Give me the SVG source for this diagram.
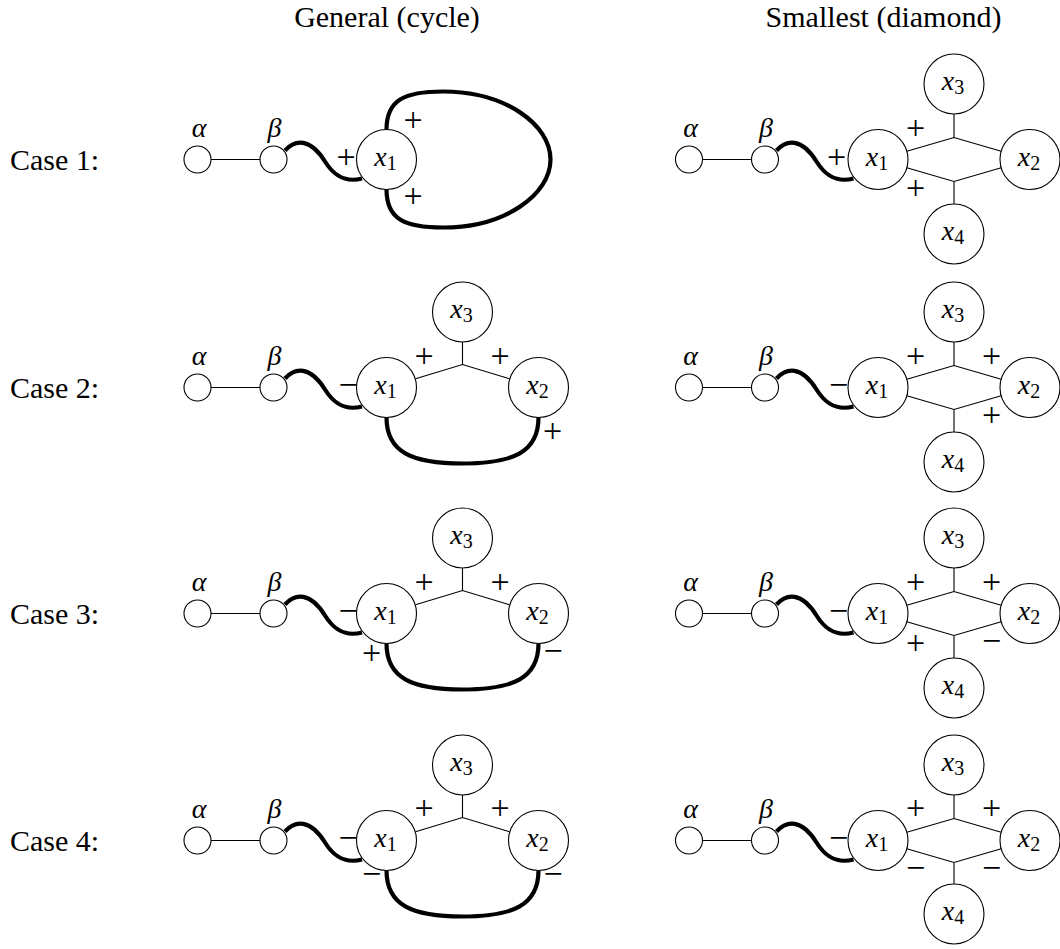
<svg xmlns="http://www.w3.org/2000/svg" width="1060" height="949" viewBox="0 0 1060 949" font-family="'Liberation Serif', 'Times New Roman', 'DejaVu Serif', serif">
<style>
.node circle{fill:#fff;stroke:#000;stroke-width:1.1}
.thin{fill:none;stroke:#000;stroke-width:1.1}
.thick{fill:none;stroke:#000;stroke-width:4.2}
text{font-family:'Liberation Serif','Times New Roman','DejaVu Serif',serif}
.math{font-style:italic;font-size:28px;text-anchor:middle;fill:#000}
.sub{font-style:normal;font-size:20px}
.sign{font-size:34px;text-anchor:middle;fill:#000}
.lbl{font-size:30px;fill:#000}
</style>
<rect width="1060" height="949" fill="#fff"/>
<g id="headers">
<text class="lbl" x="387" y="27" text-anchor="middle" font-family="Liberation Serif">General (cycle)</text>
<text class="lbl" x="883.5" y="27" text-anchor="middle" font-family="Liberation Serif">Smallest (diamond)</text>
<text class="lbl" x="10" y="170" font-family="Liberation Serif">Case 1:</text>
<text class="lbl" x="10" y="398" font-family="Liberation Serif">Case 2:</text>
<text class="lbl" x="10" y="624" font-family="Liberation Serif">Case 3:</text>
<text class="lbl" x="10" y="851" font-family="Liberation Serif">Case 4:</text>
</g>
<g id="connectors">
<path class="thin" d="M211,159.5H260"/>
<path class="thick" d="M285,150.5C295,139.5 310,137.5 325,161.5C332.5,173.5 343,183.5 362,178.5"/>
<path class="thick" d="M386.5,129.5C386.5,99.5 405,91.5 443,91.5C505,91.5 550.5,124.5 550.5,159.5C550.5,194.5 505,227.5 443,227.5C405,227.5 386.5,219.5 386.5,189.5"/>
<path class="thin" d="M702.5,159.5H751.5"/>
<path class="thick" d="M776.5,150.5C786.5,139.5 801.5,137.5 816.5,161.5C824,173.5 834.5,183.5 853.5,178.5"/>
<path class="thin" d="M906.8,151.2L954,137.5L1001.2,151.2M906.8,167.8L954,181.5L1001.2,167.8M954,137.5V114M954,181.5V204"/>
<path class="thin" d="M211,387.5H260"/>
<path class="thick" d="M285,378.5C295,367.5 310,365.5 325,389.5C332.5,401.5 343,411.5 362,406.5"/>
<path class="thin" d="M415.5,378.8L462.5,364.5L509.5,378.8M462.5,364.5V342"/>
<path class="thick" d="M386.5,417.5C386.5,452.5 412.5,463.5 462.5,463.5C512.5,463.5 538.5,452.5 538.5,417.5"/>
<path class="thin" d="M702.5,387.5H751.5"/>
<path class="thick" d="M776.5,378.5C786.5,367.5 801.5,365.5 816.5,389.5C824,401.5 834.5,411.5 853.5,406.5"/>
<path class="thin" d="M906.8,379.2L954,365.5L1001.2,379.2M906.8,395.8L954,409.5L1001.2,395.8M954,365.5V342M954,409.5V432"/>
<path class="thin" d="M211,613.5H260"/>
<path class="thick" d="M285,604.5C295,593.5 310,591.5 325,615.5C332.5,627.5 343,637.5 362,632.5"/>
<path class="thin" d="M415.5,604.8L462.5,590.5L509.5,604.8M462.5,590.5V568"/>
<path class="thick" d="M386.5,643.5C386.5,678.5 412.5,689.5 462.5,689.5C512.5,689.5 538.5,678.5 538.5,643.5"/>
<path class="thin" d="M702.5,613.5H751.5"/>
<path class="thick" d="M776.5,604.5C786.5,593.5 801.5,591.5 816.5,615.5C824,627.5 834.5,637.5 853.5,632.5"/>
<path class="thin" d="M906.8,605.2L954,591.5L1001.2,605.2M906.8,621.8L954,635.5L1001.2,621.8M954,591.5V568M954,635.5V658"/>
<path class="thin" d="M211,840.5H260"/>
<path class="thick" d="M285,831.5C295,820.5 310,818.5 325,842.5C332.5,854.5 343,864.5 362,859.5"/>
<path class="thin" d="M415.5,831.8L462.5,817.5L509.5,831.8M462.5,817.5V795"/>
<path class="thick" d="M386.5,870.5C386.5,905.5 412.5,916.5 462.5,916.5C512.5,916.5 538.5,905.5 538.5,870.5"/>
<path class="thin" d="M702.5,840.5H751.5"/>
<path class="thick" d="M776.5,831.5C786.5,820.5 801.5,818.5 816.5,842.5C824,854.5 834.5,864.5 853.5,859.5"/>
<path class="thin" d="M906.8,832.2L954,818.5L1001.2,832.2M906.8,848.8L954,862.5L1001.2,848.8M954,818.5V795M954,862.5V884"/>
</g>
<g id="edge-labels" font-family="Liberation Serif">
<text class="sign" x="346" y="168.1">+</text>
<text class="sign" x="413" y="130.6">+</text>
<text class="sign" x="413" y="206.6">+</text>
<text class="sign" x="836.5" y="168.1">+</text>
<text class="sign" x="915.5" y="138.6">+</text>
<text class="sign" x="915.5" y="198.6">+</text>
<text class="sign" x="348" y="396.1">−</text>
<text class="sign" x="424" y="367.1">+</text>
<text class="sign" x="500" y="367.1">+</text>
<text class="sign" x="552.5" y="442.1">+</text>
<text class="sign" x="838.5" y="396.1">−</text>
<text class="sign" x="915.5" y="366.6">+</text>
<text class="sign" x="991.5" y="366.6">+</text>
<text class="sign" x="991.5" y="425.6">+</text>
<text class="sign" x="348" y="622.1">−</text>
<text class="sign" x="424" y="592.6">+</text>
<text class="sign" x="500" y="592.6">+</text>
<text class="sign" x="371.5" y="663.6">+</text>
<text class="sign" x="553" y="662.1">−</text>
<text class="sign" x="838.5" y="622.1">−</text>
<text class="sign" x="915.5" y="592.6">+</text>
<text class="sign" x="991.5" y="592.6">+</text>
<text class="sign" x="915.5" y="653.6">+</text>
<text class="sign" x="991.5" y="652.1">−</text>
<text class="sign" x="348" y="849.1">−</text>
<text class="sign" x="424" y="819.1">+</text>
<text class="sign" x="500" y="819.1">+</text>
<text class="sign" x="371.5" y="885.1">−</text>
<text class="sign" x="553" y="885.1">−</text>
<text class="sign" x="838.5" y="849.1">−</text>
<text class="sign" x="915.5" y="818.6">+</text>
<text class="sign" x="991.5" y="818.6">+</text>
<text class="sign" x="915.5" y="878.6">−</text>
<text class="sign" x="991.5" y="878.6">−</text>
</g>
<g id="r1g-alpha" class="node"><circle cx="197.5" cy="159.5" r="13.5"/><text class="math" x="199" y="136.5">α</text></g>
<g id="r1g-beta" class="node"><circle cx="273.5" cy="159.5" r="13.5"/><text class="math" x="274.5" y="136.5">β</text></g>
<g id="r1g-x1" class="node"><circle cx="386.5" cy="159.5" r="30"/><text class="math" x="385.5" y="165.5">x<tspan class="sub" dy="4">1</tspan></text></g>
<g id="r1s-alpha" class="node"><circle cx="689" cy="159.5" r="13.5"/><text class="math" x="690.5" y="136.5">α</text></g>
<g id="r1s-beta" class="node"><circle cx="765" cy="159.5" r="13.5"/><text class="math" x="766" y="136.5">β</text></g>
<g id="r1s-x1" class="node"><circle cx="878" cy="159.5" r="30"/><text class="math" x="877" y="165.5">x<tspan class="sub" dy="4">1</tspan></text></g>
<g id="r1s-x2" class="node"><circle cx="1030" cy="159.5" r="30"/><text class="math" x="1029" y="165.5">x<tspan class="sub" dy="4">2</tspan></text></g>
<g id="r1s-x3" class="node"><circle cx="954" cy="84" r="30"/><text class="math" x="953" y="90">x<tspan class="sub" dy="4">3</tspan></text></g>
<g id="r1s-x4" class="node"><circle cx="954" cy="234" r="30"/><text class="math" x="953" y="240">x<tspan class="sub" dy="4">4</tspan></text></g>
<g id="r2g-alpha" class="node"><circle cx="197.5" cy="387.5" r="13.5"/><text class="math" x="199" y="364.5">α</text></g>
<g id="r2g-beta" class="node"><circle cx="273.5" cy="387.5" r="13.5"/><text class="math" x="274.5" y="364.5">β</text></g>
<g id="r2g-x1" class="node"><circle cx="386.5" cy="387.5" r="30"/><text class="math" x="385.5" y="393.5">x<tspan class="sub" dy="4">1</tspan></text></g>
<g id="r2g-x2" class="node"><circle cx="538.5" cy="387.5" r="30"/><text class="math" x="537.5" y="393.5">x<tspan class="sub" dy="4">2</tspan></text></g>
<g id="r2g-x3" class="node"><circle cx="462.5" cy="312" r="30"/><text class="math" x="461.5" y="318">x<tspan class="sub" dy="4">3</tspan></text></g>
<g id="r2s-alpha" class="node"><circle cx="689" cy="387.5" r="13.5"/><text class="math" x="690.5" y="364.5">α</text></g>
<g id="r2s-beta" class="node"><circle cx="765" cy="387.5" r="13.5"/><text class="math" x="766" y="364.5">β</text></g>
<g id="r2s-x1" class="node"><circle cx="878" cy="387.5" r="30"/><text class="math" x="877" y="393.5">x<tspan class="sub" dy="4">1</tspan></text></g>
<g id="r2s-x2" class="node"><circle cx="1030" cy="387.5" r="30"/><text class="math" x="1029" y="393.5">x<tspan class="sub" dy="4">2</tspan></text></g>
<g id="r2s-x3" class="node"><circle cx="954" cy="312" r="30"/><text class="math" x="953" y="318">x<tspan class="sub" dy="4">3</tspan></text></g>
<g id="r2s-x4" class="node"><circle cx="954" cy="462" r="30"/><text class="math" x="953" y="468">x<tspan class="sub" dy="4">4</tspan></text></g>
<g id="r3g-alpha" class="node"><circle cx="197.5" cy="613.5" r="13.5"/><text class="math" x="199" y="590.5">α</text></g>
<g id="r3g-beta" class="node"><circle cx="273.5" cy="613.5" r="13.5"/><text class="math" x="274.5" y="590.5">β</text></g>
<g id="r3g-x1" class="node"><circle cx="386.5" cy="613.5" r="30"/><text class="math" x="385.5" y="619.5">x<tspan class="sub" dy="4">1</tspan></text></g>
<g id="r3g-x2" class="node"><circle cx="538.5" cy="613.5" r="30"/><text class="math" x="537.5" y="619.5">x<tspan class="sub" dy="4">2</tspan></text></g>
<g id="r3g-x3" class="node"><circle cx="462.5" cy="538" r="30"/><text class="math" x="461.5" y="544">x<tspan class="sub" dy="4">3</tspan></text></g>
<g id="r3s-alpha" class="node"><circle cx="689" cy="613.5" r="13.5"/><text class="math" x="690.5" y="590.5">α</text></g>
<g id="r3s-beta" class="node"><circle cx="765" cy="613.5" r="13.5"/><text class="math" x="766" y="590.5">β</text></g>
<g id="r3s-x1" class="node"><circle cx="878" cy="613.5" r="30"/><text class="math" x="877" y="619.5">x<tspan class="sub" dy="4">1</tspan></text></g>
<g id="r3s-x2" class="node"><circle cx="1030" cy="613.5" r="30"/><text class="math" x="1029" y="619.5">x<tspan class="sub" dy="4">2</tspan></text></g>
<g id="r3s-x3" class="node"><circle cx="954" cy="538" r="30"/><text class="math" x="953" y="544">x<tspan class="sub" dy="4">3</tspan></text></g>
<g id="r3s-x4" class="node"><circle cx="954" cy="688" r="30"/><text class="math" x="953" y="694">x<tspan class="sub" dy="4">4</tspan></text></g>
<g id="r4g-alpha" class="node"><circle cx="197.5" cy="840.5" r="13.5"/><text class="math" x="199" y="817.5">α</text></g>
<g id="r4g-beta" class="node"><circle cx="273.5" cy="840.5" r="13.5"/><text class="math" x="274.5" y="817.5">β</text></g>
<g id="r4g-x1" class="node"><circle cx="386.5" cy="840.5" r="30"/><text class="math" x="385.5" y="846.5">x<tspan class="sub" dy="4">1</tspan></text></g>
<g id="r4g-x2" class="node"><circle cx="538.5" cy="840.5" r="30"/><text class="math" x="537.5" y="846.5">x<tspan class="sub" dy="4">2</tspan></text></g>
<g id="r4g-x3" class="node"><circle cx="462.5" cy="765" r="30"/><text class="math" x="461.5" y="771">x<tspan class="sub" dy="4">3</tspan></text></g>
<g id="r4s-alpha" class="node"><circle cx="689" cy="840.5" r="13.5"/><text class="math" x="690.5" y="817.5">α</text></g>
<g id="r4s-beta" class="node"><circle cx="765" cy="840.5" r="13.5"/><text class="math" x="766" y="817.5">β</text></g>
<g id="r4s-x1" class="node"><circle cx="878" cy="840.5" r="30"/><text class="math" x="877" y="846.5">x<tspan class="sub" dy="4">1</tspan></text></g>
<g id="r4s-x2" class="node"><circle cx="1030" cy="840.5" r="30"/><text class="math" x="1029" y="846.5">x<tspan class="sub" dy="4">2</tspan></text></g>
<g id="r4s-x3" class="node"><circle cx="954" cy="765" r="30"/><text class="math" x="953" y="771">x<tspan class="sub" dy="4">3</tspan></text></g>
<g id="r4s-x4" class="node"><circle cx="954" cy="914" r="30"/><text class="math" x="953" y="920">x<tspan class="sub" dy="4">4</tspan></text></g>
</svg>
